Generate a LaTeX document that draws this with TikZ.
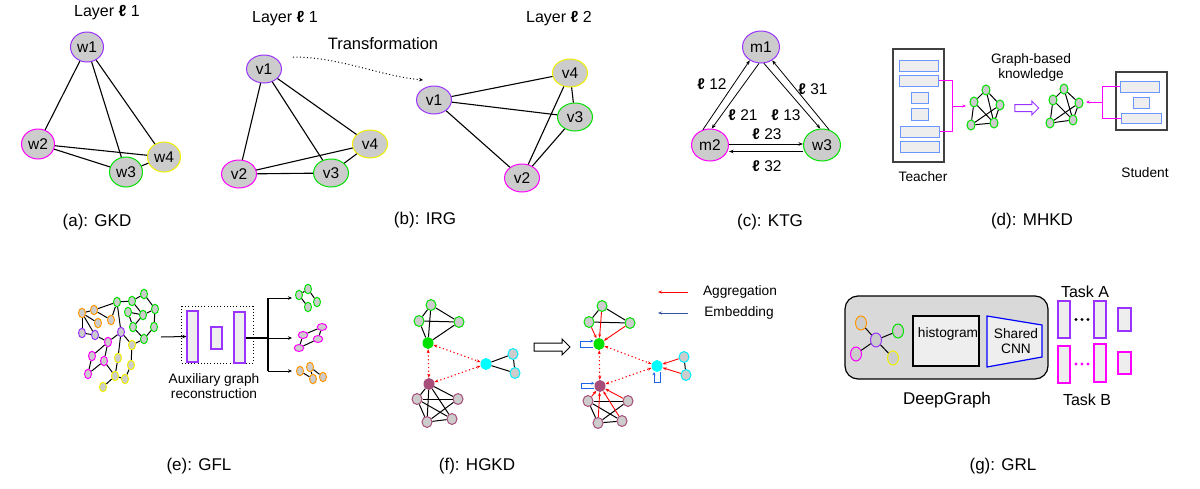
\documentclass[tikz,border=0pt]{standalone}
\usepackage{fontspec}
\setmainfont{Liberation Sans}
\usetikzlibrary{shapes.geometric,shapes.arrows,arrows.meta,calc}
\definecolor{ngray}{RGB}{204,204,204}
\definecolor{cviolet}{RGB}{153,51,255}
\definecolor{cmag}{RGB}{255,0,255}
\definecolor{cgreen}{RGB}{0,225,0}
\definecolor{cyel}{RGB}{240,240,0}
\definecolor{corange}{RGB}{255,153,0}
\definecolor{ccyan}{RGB}{0,238,255}
\definecolor{cfillcyan}{RGB}{0,255,255}
\definecolor{cmauve}{RGB}{166,77,121}
\definecolor{cblue}{RGB}{0,0,255}
\definecolor{lblue}{RGB}{108,150,255}
\definecolor{boxfill}{RGB}{238,238,238}
\definecolor{panelfill}{RGB}{217,217,217}
\definecolor{embblue}{RGB}{50,80,160}
\definecolor{loopblue}{RGB}{30,100,230}
\definecolor{cred}{RGB}{255,0,0}
\newcommand\myfs[1]{\fontsize{#1}{#1}\selectfont}
\newcommand\ellb{\textbf{ℓ}}
\tikzset{
  bignode/.style={ellipse, draw, fill=ngray, line width=1pt, inner sep=0pt, minimum width=33pt, minimum height=30pt, font=\myfs{15.5}},
  bnode/.style={bignode, minimum width=35pt, minimum height=28pt},
  cnode/.style={bignode, minimum width=37pt, minimum height=32pt},
  edge/.style={line width=1.1pt, black},
  capt/.style={font=\myfs{17}},
  ttl/.style={font=\myfs{16}},
  sml/.style={font=\myfs{13.7}},
  dnode/.style={ellipse, draw=cgreen, fill=ngray, line width=1pt, inner sep=0pt, minimum width=8pt, minimum height=10pt},
  enode/.style={ellipse, draw, fill=ngray, line width=1pt, inner sep=0pt, minimum width=7pt, minimum height=9.5pt},
  fnode/.style={ellipse, draw, fill=ngray, line width=1pt, inner sep=0pt, minimum width=10pt, minimum height=11pt},
  fcen/.style={ellipse, inner sep=0pt, minimum width=11pt, minimum height=12pt},
  gnode/.style={ellipse, draw, fill=ngray, line width=1pt, inner sep=0pt, minimum width=11pt, minimum height=14pt},
  tarr/.style={-{Stealth[length=4.5pt,width=3.5pt]}, line width=0.8pt},
  inbox/.style={draw=lblue, fill=boxfill, line width=1pt, inner sep=0pt},
  mline/.style={cmag, line width=1pt},
  marr/.style={cmag, line width=1pt, -{Stealth[length=3.5pt,width=3pt]}},
  redarr/.style={cred, line width=0.9pt, -{Stealth[length=4pt,width=3pt]}},
  reddot/.style={cred, line width=1.1pt, dash pattern=on 1.2pt off 2.6pt, {Stealth[length=4pt,width=3pt]}-{Stealth[length=4pt,width=3pt]}},
  bluelp/.style={loopblue, line width=1pt, -{Stealth[length=3pt,width=3pt]}},
  trect/.style={draw, fill=boxfill, line width=1.2pt, inner sep=0pt},
}
\begin{document}
\begin{tikzpicture}[x=1pt,y=-1pt]
\useasboundingbox (0,0) rectangle (1200,488);
\fill[white] (0,0) rectangle (1200,488);

% ---------------- (a) GKD
\node[ttl] (ta) at (107,13) {Layer \ellb{} 1};
\node[bignode, draw=cviolet] (w1) at (87,47) {w1};
\node[bignode, draw=cmag] (w2) at (38,144) {w2};
\node[bignode, draw=cgreen] (w3) at (126,172) {w3};
\node[bignode, draw=cyel] (w4) at (164,157) {w4};
\draw[edge] (w1) -- (w2);
\draw[edge] (w1) -- (w3);
\draw[edge] (w1) -- (w4);
\draw[edge] (w2) -- (w4);
\draw[edge] (w2) -- (w3);
\draw[edge] (w3) -- (w4);
\node[capt] (ca) at (97,222) {(a): GKD};

% ---------------- (b) IRG
\node[ttl] (tb1) at (285,19) {Layer \ellb{} 1};
\node[ttl] (tb2) at (559,19) {Layer \ellb{} 2};
\node[font=\myfs{16.5}] (ttr) at (383,44) {Transformation};
\node[bnode, draw=cviolet] (v1) at (264,69) {v1};
\node[bnode, draw=cmag] (v2) at (239,174) {v2};
\node[bnode, draw=cgreen] (v3) at (331,173) {v3};
\node[bnode, draw=cyel] (v4) at (370,144) {v4};
\draw[edge] (v1) -- (v2);
\draw[edge] (v1) -- (v3);
\draw[edge] (v1) -- (v4);
\draw[edge] (v2) -- (v4);
\draw[edge] (v2) -- (v3);
\draw[edge] (v3) -- (v4);
\node[bnode, draw=cviolet] (u1) at (434,100) {v1};
\node[bnode, draw=cmag] (u2) at (522,178) {v2};
\node[bnode, draw=cgreen] (u3) at (575,117) {v3};
\node[bnode, draw=cyel] (u4) at (570,73) {v4};
\draw[edge] (u1) -- (u4);
\draw[edge] (u1) -- (u3);
\draw[edge] (u1) -- (u2);
\draw[edge] (u2) -- (u4);
\draw[edge] (u2) -- (u3);
\draw[edge] (u3) -- (u4);
\coordinate (trs) at (293,57);
\coordinate (tre) at (423,80);
\draw[line width=1pt, dash pattern=on 1pt off 2.5pt, -{Stealth[length=4pt,width=3.5pt]}] (trs) .. controls (340,57) and (380,76) .. (tre);
\node[capt] (cb) at (425,220) {(b): IRG};

% ---------------- (c) KTG
\node[cnode, draw=cviolet] (m1) at (761,47) {m1};
\node[cnode, draw=cmag] (m2) at (710,145) {m2};
\node[cnode, draw=cgreen] (m3) at (822,145) {w3};
\draw[tarr] (m2.115) -- (m1.230);
\draw[tarr] (m1.263) -- (m2.84);
\draw[tarr] (m1.280) -- (m3.96);
\draw[tarr] (m3.65) -- (m1.310);
\draw[tarr] ([yshift=1pt]m2.east) -- ([yshift=1pt]m3.west);
\draw[tarr] ([yshift=-6.5pt]m3.west) -- ([yshift=-6.5pt]m2.east);
\node[font=\myfs{15.5}] (l12) at (712,84) {\ellb{} 12};
\node[font=\myfs{15.5}] (l21) at (743,115) {\ellb{} 21};
\node[font=\myfs{15.5}] (l13) at (786,115) {\ellb{} 13};
\node[font=\myfs{15.5}] (l31) at (813,89) {\ellb{} 31};
\node[font=\myfs{15.5}] (l23) at (767,134) {\ellb{} 23};
\node[font=\myfs{15.5}] (l32) at (767,166) {\ellb{} 32};
\node[capt] (cc) at (770,222) {(c): KTG};

% ---------------- (d) MHKD
\node[draw=black!75, line width=1.3pt, fill=white, minimum width=51pt, minimum height=113pt, inner sep=0pt] (teach) at (918.5,105.5) {};
\node[inbox, minimum width=39pt, minimum height=11pt] (t1) at (918.5,65.5) {};
\node[inbox, minimum width=39pt, minimum height=11pt] (t2) at (918.5,80.5) {};
\node[inbox, minimum width=17pt, minimum height=11pt] (t3) at (919.5,97.5) {};
\node[inbox, minimum width=17pt, minimum height=12pt] (t4) at (919.5,114) {};
\node[inbox, minimum width=39pt, minimum height=11pt] (t5) at (919.5,131.5) {};
\node[inbox, minimum width=39pt, minimum height=11pt] (t6) at (919.5,146.5) {};
\coordinate (tv1) at (952,80.5);
\coordinate (tv2) at (952,131.5);
\coordinate (tmid) at (952,106);
\coordinate (tend) at (966,106);
\draw[mline] (t2.east) -- (tv1) -- (tv2) -- (t5.east);
\draw[marr] (tmid) -- (tend);
\node[dnode] (da) at (986,90) {};
\node[dnode] (db) at (974,102) {};
\node[dnode] (dc) at (1000,105) {};
\node[dnode] (dd) at (971,125) {};
\node[dnode] (de) at (994,123) {};
\foreach \p/\q in {da/db,da/dc,da/de,db/de,db/dd,dc/dd,dc/de,dd/de}{\draw[line width=1pt] (\p) -- (\q);}
\node[single arrow, draw=cviolet, line width=1pt, fill=white, minimum height=24pt, single arrow head extend=3.5pt, inner sep=3pt] (harr) at (1025,108) {};
\node[dnode] (ka) at (1064,89) {};
\node[dnode] (kb) at (1053,100) {};
\node[dnode] (kc) at (1079,103) {};
\node[dnode] (kd) at (1050,123) {};
\node[dnode] (ke) at (1073,120) {};
\foreach \p/\q in {ka/kb,ka/kc,ka/ke,kb/ke,kb/kd,kc/kd,kc/ke,kd/ke}{\draw[line width=1pt] (\p) -- (\q);}
\node[sml, align=center] (gbk) at (1031,67.5) {Graph-based\\[1pt]knowledge};
\node[draw=black!75, line width=1.3pt, fill=white, minimum width=51pt, minimum height=58pt, inner sep=0pt] (stud) at (1141.5,101) {};
\node[inbox, minimum width=39pt, minimum height=11pt] (s1) at (1139.5,86.5) {};
\node[inbox, minimum width=16pt, minimum height=11pt] (s2) at (1141,102.5) {};
\node[inbox, minimum width=40pt, minimum height=10pt] (s3) at (1141,118) {};
\coordinate (sv1) at (1102,86.5);
\coordinate (sv2) at (1102,118);
\coordinate (smid) at (1102,102);
\coordinate (send) at (1086,102);
\draw[mline] (s1.west) -- (sv1) -- (sv2) -- (s3.west);
\draw[marr] (smid) -- (send);
\node[sml] (tlab) at (923,177) {Teacher};
\node[sml] (slab) at (1145,173) {Student};
\node[capt] (cd) at (1032,221) {(d): MHKD};

% ---------------- (e) GFL
\node[enode, draw=corange] (O1) at (82,313) {};
\node[enode, draw=corange] (O2) at (94,310) {};
\node[enode, draw=corange] (O3) at (98,323) {};
\node[enode, draw=corange] (O4) at (111,320) {};
\node[enode, draw=cviolet] (V1) at (82,333) {};
\node[enode, draw=cviolet] (V2) at (95,335) {};
\node[enode, draw=cviolet] (V3) at (121,332) {};
\node[enode, draw=cgreen] (G1) at (117,302) {};
\node[enode, draw=cgreen] (G2) at (132,301) {};
\node[enode, draw=cgreen] (G3) at (144,294) {};
\node[enode, draw=cgreen] (G4) at (155,309) {};
\node[enode, draw=cgreen] (G5) at (128,312) {};
\node[enode, draw=cgreen] (G6) at (143,315) {};
\node[enode, draw=cgreen] (G7) at (154,327) {};
\node[enode, draw=cgreen] (G8) at (133,327) {};
\node[enode, draw=cgreen] (G9) at (144,339) {};
\node[enode, draw=cmag] (M1) at (108,342) {};
\node[enode, draw=cmag] (M2) at (92,356) {};
\node[enode, draw=cmag] (M3) at (104,361) {};
\node[enode, draw=cmag] (M4) at (88,374) {};
\node[enode, draw=cyel] (Y1) at (132,345) {};
\node[enode, draw=cyel] (Y2) at (118,358) {};
\node[enode, draw=cyel] (Y3) at (131,365) {};
\node[enode, draw=cyel] (Y4) at (115,376) {};
\node[enode, draw=cyel] (Y5) at (125,379) {};
\node[enode, draw=cyel] (Y6) at (103,387) {};
\foreach \p/\q in {O1/O2,O1/V1,O1/O3,O1/V2,O2/O4,O2/G1,O4/G1,G1/G2,G1/V3,G2/G3,G3/G4,G2/G6,G5/G8,G6/G4,G4/G7,G7/G9,G6/G8,G8/G9,V1/V2,M1/V3,V3/Y1,V3/Y2,M1/M2,M1/M3,M2/M4,M3/M4,M3/Y4,Y1/Y3,Y1/G9,Y3/Y5,Y4/Y5,Y4/Y2,Y4/Y6,V2/M1,G5/G6}{\draw[line width=1pt] (\p) -- (\q);}
\draw[black, line width=1pt, dash pattern=on 1pt off 2.2pt] (181,306) rectangle (253,363);
\node[draw=cviolet, fill=boxfill, line width=1.3pt, minimum width=11pt, minimum height=51pt, inner sep=0pt] (eb1) at (192.5,336.5) {};
\node[draw=cviolet, fill=boxfill, line width=1.3pt, minimum width=11pt, minimum height=22pt, inner sep=0pt] (eb2) at (216.5,338) {};
\node[draw=cviolet, fill=boxfill, line width=1.3pt, minimum width=11pt, minimum height=51pt, inner sep=0pt] (eb3) at (239.5,337.5) {};
\coordinate (ein) at (161,337);
\draw[line width=1pt, -{Stealth[length=4pt,width=3.5pt]}] (ein) -- (eb1.west);
\coordinate (esp) at (268,338);
\coordinate (eA) at (268,298);
\coordinate (eB) at (268,371);
\coordinate (eAe) at (292,298);
\coordinate (eMe) at (292,338);
\coordinate (eBe) at (292,371);
\draw[line width=1.8pt] (eb3.east |- esp) -- (esp);
\draw[line width=1.2pt] (eA) -- (eB);
\draw[line width=1pt, -{Stealth[length=4pt,width=3.5pt]}] (eA) -- (eAe);
\draw[line width=1pt, -{Stealth[length=4pt,width=3.5pt]}] (esp) -- (eMe);
\draw[line width=1pt, -{Stealth[length=4pt,width=3.5pt]}] (eB) -- (eBe);
\node[enode, draw=cgreen] (e1) at (299,295) {};
\node[enode, draw=cgreen] (e2) at (308,289) {};
\node[enode, draw=cgreen] (e3) at (317,302) {};
\node[enode, draw=cgreen] (e4) at (308,307) {};
\draw[line width=1pt] (e1) -- (e2);
\draw[line width=1pt] (e2) -- (e3);
\draw[line width=1pt] (e1) -- (e4);
\node[enode, draw=cmag, minimum width=9.5pt, minimum height=7pt] (f1) at (303,335) {};
\node[enode, draw=cmag, minimum width=9.5pt, minimum height=7pt] (f2) at (322,327) {};
\node[enode, draw=cmag, minimum width=9.5pt, minimum height=7pt] (f3) at (318,339) {};
\node[enode, draw=cmag, minimum width=9.5pt, minimum height=7pt] (f4) at (299,348) {};
\draw[line width=1pt] (f1) -- (f2);
\draw[line width=1pt] (f2) -- (f3);
\draw[line width=1pt] (f3) -- (f4);
\draw[line width=1pt] (f1) -- (f4);
\node[enode, draw=corange] (h1) at (300,371) {};
\node[enode, draw=corange] (h2) at (310,367) {};
\node[enode, draw=corange] (h3) at (313,379) {};
\node[enode, draw=corange] (h4) at (323,377) {};
\draw[line width=1pt] (h1) -- (h3);
\draw[line width=1pt] (h2) -- (h4);
\draw[line width=1pt] (h2) -- (h3);
\node[sml, align=center] (eaux) at (214,386) {Auxiliary graph\\[1pt]reconstruction};
\node[capt] (ce) at (199,466) {(e): GFL};

% ---------------- (f) HGKD left
\node[fnode, draw=cgreen] (gA) at (431,305) {};
\node[fnode, draw=cgreen] (gB) at (419,321) {};
\node[fnode, draw=cgreen] (gC) at (459,322) {};
\node[fcen, fill=cgreen] (gcen) at (428,343) {};
\node[fcen, fill=cfillcyan] (ccen) at (486,364) {};
\node[fnode, draw=ccyan] (cA) at (513,354) {};
\node[fnode, draw=ccyan] (cB) at (515,373) {};
\node[fcen, fill=cmauve] (mcen) at (429,384) {};
\node[fnode, draw=cmauve] (mA) at (417,399) {};
\node[fnode, draw=cmauve] (mB) at (458,399) {};
\node[fnode, draw=cmauve] (mC) at (427,422) {};
\node[fnode, draw=cmauve] (mD) at (452,419) {};
\foreach \p/\q in {gA/gB,gA/gC,gA/gcen,gB/gC,gB/gcen,gC/gcen,ccen/cA,ccen/cB,cA/cB,mcen/mA,mcen/mB,mcen/mC,mcen/mD,mA/mB,mA/mC,mA/mD,mB/mC,mC/mD}{\draw[line width=1pt] (\p) -- (\q);}
\draw[reddot] (gcen) -- (ccen);
\draw[reddot] (gcen) -- (mcen);
\draw[reddot] (mcen) -- (ccen);
\node[single arrow, draw=black, line width=1pt, fill=white, minimum height=36pt, single arrow head extend=4pt, inner sep=3.5pt] (farr) at (550,347) {};

% ---------------- (f) HGKD right
\node[fnode, draw=cgreen] (hgA) at (602,306) {};
\node[fnode, draw=cgreen] (hgB) at (589,322) {};
\node[fnode, draw=cgreen] (hgC) at (630,323) {};
\node[fcen, fill=cgreen] (hgcen) at (599,344) {};
\node[fcen, fill=cfillcyan] (hccen) at (657,366) {};
\node[fnode, draw=ccyan] (hcA) at (684,357) {};
\node[fnode, draw=ccyan] (hcB) at (686,375) {};
\node[fcen, fill=cmauve] (hmcen) at (600,386) {};
\node[fnode, draw=cmauve] (hmA) at (588,401) {};
\node[fnode, draw=cmauve] (hmB) at (628,401) {};
\node[fnode, draw=cmauve] (hmC) at (598,423) {};
\node[fnode, draw=cmauve] (hmD) at (622,421) {};
\foreach \p/\q in {hgA/hgB,hgA/hgC,hgB/hgC,hcA/hcB,hmA/hmB,hmA/hmC,hmA/hmD,hmB/hmC,hmC/hmD}{\draw[line width=1pt] (\p) -- (\q);}
\foreach \p/\q in {hgA/hgcen,hgB/hgcen,hgC/hgcen,hcA/hccen,hcB/hccen,hmA/hmcen,hmB/hmcen,hmC/hmcen,hmD/hmcen}{\draw[redarr] (\p) -- (\q);}
\draw[reddot] (hgcen) -- (hccen);
\draw[reddot] (hgcen) -- (hmcen);
\draw[reddot] (hmcen) -- (hccen);
\draw[bluelp] ($(hgcen.west)+(0,3)$) -- ++(-13,0) -- ++(0,-6) -- ($(hgcen.west)+(0,-3)$);
\draw[bluelp] ($(hmcen.west)+(0,2.7)$) -- ++(-13,0) -- ++(0,-5.4) -- ($(hmcen.west)+(0,-2.7)$);
\draw[bluelp] ($(hccen.south)+(3,0)$) -- ++(0,10) -- ++(-6,0) -- ($(hccen.south)+(-3,0)$);
\coordinate (lg1s) at (688,292);
\coordinate (lg1e) at (658,292);
\coordinate (lg2s) at (688,313);
\coordinate (lg2e) at (658,313);
\draw[redarr] (lg1s) -- (lg1e);
\draw[embblue, line width=0.9pt, -{Stealth[length=4pt,width=3pt]}] (lg2s) -- (lg2e);
\node[sml] (lagg) at (740,292) {Aggregation};
\node[sml] (lemb) at (739,313) {Embedding};
\node[capt] (cf) at (477,466) {(f): HGKD};

% ---------------- (g) GRL
\node[draw=black, fill=panelfill, line width=1.2pt, rounded corners=13pt, minimum width=203pt, minimum height=83pt, inner sep=0pt] (gpan) at (946.5,337.5) {};
\node[gnode, draw=cviolet] (qc) at (876,340) {};
\node[gnode, draw=corange] (qo) at (861,323) {};
\node[gnode, draw=cgreen] (qg) at (898,331) {};
\node[gnode, draw=cmag] (qm) at (856,354) {};
\node[gnode, draw=cyel] (qy) at (893,358) {};
\draw[line width=1pt] (qc) -- (qo);
\draw[line width=1pt] (qc) -- (qg);
\draw[line width=1pt] (qc) -- (qm);
\draw[line width=1pt] (qc) -- (qy);
\node[draw=black, fill=boxfill, line width=1.2pt, minimum width=66pt, minimum height=50pt, inner sep=0pt] (hist) at (946,341) {};
\node[sml] (histt) at (948,334) {histogram};
\draw[cblue, fill=boxfill, line width=1.2pt] (987,316) -- (1042,325) -- (1042,357) -- (987,367) -- cycle;
\node[sml, align=center] (cnn) at (1016,341) {Shared\\[2pt]CNN};
\node[capt] (dg) at (947,400) {DeepGraph};
\node[ttl] (tka) at (1085,292) {Task A};
\node[ttl] (tkb) at (1087,400) {Task B};
\node[trect, draw=cviolet, minimum width=12pt, minimum height=37pt] (ra1) at (1064,319.5) {};
\node[trect, draw=cviolet, minimum width=12pt, minimum height=37pt] (ra2) at (1100,319.5) {};
\node[trect, draw=cviolet, minimum width=13pt, minimum height=23pt] (ra3) at (1124.5,319.5) {};
\node[trect, draw=cmag, minimum width=12pt, minimum height=37pt] (rb1) at (1064,364.5) {};
\node[trect, draw=cmag, minimum width=12pt, minimum height=38pt] (rb2) at (1100,363) {};
\node[trect, draw=cmag, minimum width=13pt, minimum height=22pt] (rb3) at (1124.5,363) {};
\foreach \x in {1076,1082,1088}{\fill[black] (\x,319.5) circle (1.6pt); \fill[cmag] (\x,364) circle (1.6pt);}
\node[capt] (cg) at (1003,466) {(g): GRL};
\end{tikzpicture}
\end{document}
